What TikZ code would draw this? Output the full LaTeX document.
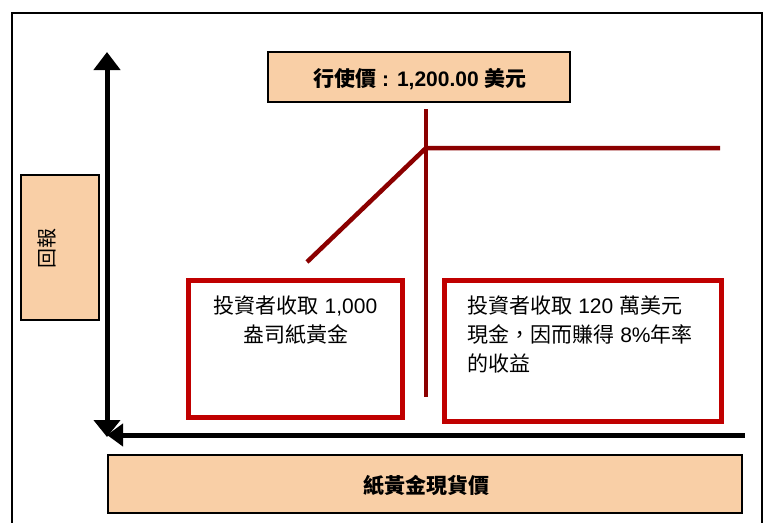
\documentclass[tikz,border=0pt]{standalone}
\usepackage{fontspec}
\setmainfont{Liberation Sans}
\newfontfamily\cjk{Noto Sans CJK TC}
\usetikzlibrary{arrows.meta}
\definecolor{peach}{HTML}{F9CFA6}
\definecolor{boxred}{HTML}{C00000}
\definecolor{payred}{HTML}{8B0000}
\begin{document}
\begin{tikzpicture}[x=1pt,y=-1pt,
  peachbox/.style={draw=black, fill=peach, line width=1.6pt, inner sep=0pt},
  redbox/.style={draw=boxred, line width=4.5pt, inner sep=0pt},
  boxtext/.style={inner sep=0pt, font=\fontsize{21pt}{29pt}\selectfont},
  labeltext/.style={inner sep=0pt, font=\fontsize{21pt}{25pt}\selectfont\bfseries},
  axis/.style={line width=5pt, black},
  payoff/.style={line width=4.5pt, payred}]
\useasboundingbox (0,0) rectangle (765,522);
\clip (0,0) rectangle (765,522);
% outer frame
\draw[line width=1.5pt] (12,540) -- (12,13) -- (762,13) -- (762,540);
% peach label boxes
\node[peachbox, minimum width=302pt, minimum height=50pt] (strike) at (419,77) {};
\node[labeltext] (striketext) at (420,79) {{\cjk 行使價} : 1,200.00 {\cjk 美元}};
\node[peachbox, minimum width=78pt, minimum height=145pt] (ybox) at (60,247.5) {};
\node[labeltext, font=\fontsize{20pt}{24pt}\selectfont\cjk, rotate=90] (ytext) at (47,248) {回報};
\node[peachbox, minimum width=634pt, minimum height=58pt] (xbox) at (425,484) {};
\node[labeltext, font=\fontsize{21pt}{25pt}\selectfont\bfseries\cjk] (xtext) at (426,485) {紙黃金現貨價};
% red boxes
\node[redbox, minimum width=214pt, minimum height=137pt] (lbox) at (295.5,349) {};
\node[boxtext, anchor=north, align=center] (ltext) at ([yshift=-17pt]lbox.north)
  {{\cjk 投資者收取} 1,000\\{\cjk 盎司紙黃金}};
\node[redbox, minimum width=277pt, minimum height=141pt] (rbox) at (583,351) {};
\node[boxtext, anchor=north west, align=left] (rtext) at ([xshift=25pt,yshift=-17pt]rbox.north west)
  {{\cjk 投資者收取} 120 {\cjk 萬美元}\\{\cjk 現金，因而賺得} 8\%{\cjk 年率}\\{\cjk 的收益}};
% axes
\coordinate (ytop) at (107,52);
\coordinate (ybot) at (107,437);
\coordinate (xleft) at (107,435);
\coordinate (xright) at (745,435);
\draw[axis, {Triangle[width=26pt,length=17pt]}-{Triangle[width=26pt,length=18pt]}] (ybot) -- (ytop);
\draw[axis, {Triangle[width=22pt,length=16pt]}-] (xleft) -- (xright);
% payoff lines
\coordinate (v0) at (426,109);
\coordinate (v1) at (426,397);
\coordinate (p0) at (307,262);
\coordinate (k) at (426,148);
\coordinate (p1) at (720,148);
\draw[payoff] (v0) -- (v1);
\draw[payoff] (p0) -- (k) -- (p1);
\end{tikzpicture}
\end{document}
